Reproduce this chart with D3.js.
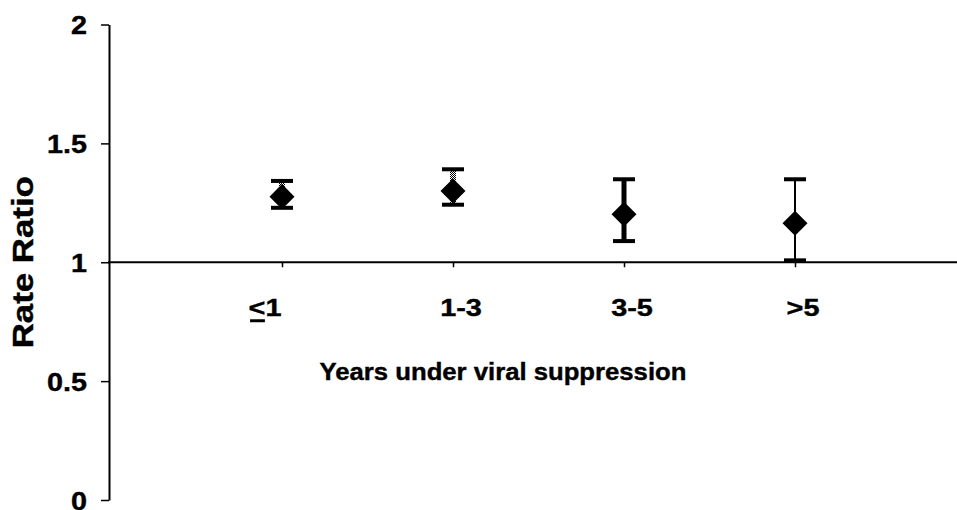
<!DOCTYPE html>
<html>
<head>
<meta charset="utf-8">
<script src="https://cdn.jsdelivr.net/npm/d3@7/dist/d3.min.js"></script>
<style>
  html, body { margin: 0; padding: 0; background: #fff; }
  svg text { font-family: Arial, "Liberation Sans", Helvetica, sans-serif; font-weight: bold; fill: #000; stroke: #000; stroke-width: 0.4px; }
</style>
</head>
<body>
<svg id="chart" width="957" height="510"></svg>
<script>
// Rate ratio with 95% CI by years under viral suppression
const categories = ["≤1", "1-3", "3-5", ">5"];
const rateRatio  = [1.276, 1.300, 1.202, 1.164];
const lowerCI    = [1.229, 1.242, 1.089, 1.008];
const upperCI    = [1.342, 1.391, 1.349, 1.349];
const yTicks      = [0, 0.5, 1, 1.5, 2];
const yTickLabels = ["0", "0.5", "1", "1.5", "2"];

// whisker stems are formatted per group
const stemStyles = [
  { width: 6, fill: "url(#checker)" },
  { width: 6, fill: "url(#checker)" },
  { width: 5, fill: "#000" },
  { width: 2, fill: "#000" }
];

const svg = d3.select("#chart");
const axisX = 109;

const y = d3.scaleLinear().domain([0, 2]).range([500, 24.5]);
const x = d3.scaleLinear().domain([0, 5]).range([111, 966]);
const cx = i => x(i + 1);

// stretch a text horizontally (wide bold face)
function widen(sel, k) {
  sel.each(function () {
    const n = this;
    const w = n.getComputedTextLength();
    d3.select(n).attr("textLength", w * k).attr("lengthAdjust", "spacingAndGlyphs");
  });
}

// 1px checker used for the stems of the first two groups
const defs = svg.append("defs");
const pat = defs.append("pattern").attr("id", "checker")
  .attr("width", 2).attr("height", 2).attr("patternUnits", "userSpaceOnUse");
pat.append("rect").attr("width", 2).attr("height", 2).attr("fill", "#fff");
pat.append("rect").attr("width", 1).attr("height", 1).attr("fill", "#000");
pat.append("rect").attr("x", 1).attr("y", 1).attr("width", 1).attr("height", 1).attr("fill", "#000");

// value axis
const yAxis = d3.axisLeft(y)
  .tickValues(yTicks)
  .tickFormat((d, i) => yTickLabels[i])
  .tickSize(8)
  .tickSizeOuter(0)
  .tickPadding(14);

const gy = svg.append("g").attr("transform", `translate(${axisX},0)`).call(yAxis);
gy.attr("font-family", null).attr("font-size", null);
gy.select(".domain").attr("stroke", "#000").attr("stroke-width", 2);
gy.selectAll(".tick line").attr("stroke", "#000").attr("stroke-width", 1.5);
gy.selectAll(".tick text").attr("font-size", 25).attr("dy", "0.36em");
widen(gy.selectAll(".tick text"), 1.15);

// category axis crossing at a rate ratio of 1
const y1 = y(1);
svg.append("line")
  .attr("x1", axisX - 1).attr("x2", 957)
  .attr("y1", y1).attr("y2", y1)
  .attr("stroke", "#000").attr("stroke-width", 2);

const xAxis = d3.axisBottom(x)
  .tickValues(categories.map((d, i) => i + 1))
  .tickFormat("")
  .tickSize(5)
  .tickSizeOuter(0);
const gx = svg.append("g").attr("transform", `translate(0,${y1})`).call(xAxis);
gx.select(".domain").remove();
gx.selectAll(".tick line").attr("stroke", "#000").attr("stroke-width", 1.5);

// category labels
const labels = svg.append("g");
categories.forEach((c, i) => {
  const lead = c.startsWith("≤");
  const t = labels.append("text")
    .attr("x", cx(i) + (lead ? -17 : 8))
    .attr("y", y1 + 54)
    .attr("text-anchor", "middle")
    .attr("font-size", 24);
  if (lead) {
    t.append("tspan").text("<");
    t.append("tspan").text(c.slice(1));
  } else {
    t.text(c);
  }
  widen(t, 1.2);
  if (lead) {
    const ext = t.node().getExtentOfChar(0);
    labels.append("rect")
      .attr("x", ext.x + 1.5).attr("y", y1 + 57)
      .attr("width", ext.width - 2).attr("height", 3)
      .attr("fill", "#000");
  }
});

// axis titles
const xTitle = svg.append("text")
  .attr("x", 503).attr("y", 380)
  .attr("text-anchor", "middle")
  .attr("font-size", 24)
  .text("Years under viral suppression");
widen(xTitle, 1.07);

const yTitle = svg.append("text")
  .attr("transform", `translate(33,${y1}) rotate(-90)`)
  .attr("text-anchor", "middle")
  .attr("font-size", 29)
  .text("Rate Ratio");
widen(yTitle, 1.2);

// error bars and point estimates
const marks = svg.append("g");
const capW = 22, capH = 4;
categories.forEach((c, i) => {
  const st = stemStyles[i];
  const g = marks.append("g");
  g.append("rect")
    .attr("x", cx(i) - st.width / 2)
    .attr("y", y(upperCI[i]))
    .attr("width", st.width)
    .attr("height", y(lowerCI[i]) - y(upperCI[i]))
    .attr("fill", st.fill);
  [upperCI[i], lowerCI[i]].forEach(v => {
    g.append("rect")
      .attr("x", cx(i) - capW / 2)
      .attr("y", y(v) - capH / 2)
      .attr("width", capW).attr("height", capH)
      .attr("fill", "#000");
  });
  g.append("path")
    .attr("d", d3.symbol(d3.symbolSquare, 313)())
    .attr("transform", `translate(${cx(i)},${y(rateRatio[i])}) rotate(45)`)
    .attr("fill", "#000");
});
</script>
</body>
</html>
